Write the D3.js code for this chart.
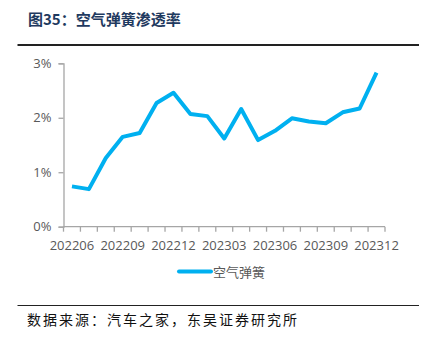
<!DOCTYPE html>
<html>
<head>
<meta charset="utf-8">
<script src="https://cdn.jsdelivr.net/npm/d3@7/dist/d3.min.js"></script>
<style>
  html, body { margin: 0; padding: 0; background: #fff; }
  svg { display: block; }
</style>
</head>
<body>
<svg id="chart" width="426" height="343"></svg>
<script>
// Monthly penetration rate of air suspension springs (%)
const months = ["202206","202207","202208","202209","202210","202211","202212","202301","202302","202303","202304","202305","202306","202307","202308","202309","202310","202311","202312"];
const rates = [0.74, 0.69, 1.26, 1.65, 1.72, 2.27, 2.46, 2.07, 2.03, 1.62, 2.16, 1.59, 1.76, 1.99, 1.93, 1.90, 2.10, 2.17, 2.83];
const yTicks = [0, 1, 2, 3];
const xLabels = ["202206","202209","202212","202303","202306","202309","202312"];
const seriesName = "空气弹簧";

const svg = d3.select("#chart");
const axisColor = "#a6a6a6";
const textColor = "#595959";
const lineColor = "#00b0f0";

const plotLeft = 63.5, plotRight = 385, plotTop = 63.3, plotBottom = 226.7;

const x = d3.scaleBand().domain(months).range([plotLeft, plotRight]).paddingInner(0).paddingOuter(0);
const y = d3.scaleLinear().domain([0, 3]).range([plotBottom, plotTop]);

// Title
svg.append("text")
  .attr("x", 28).attr("y", 25)
  .attr("fill", "#1f3a60")
  .attr("font-family", "'Noto Sans CJK SC', sans-serif")
  .attr("font-weight", "bold")
  .attr("font-size", 15)
  .text("图35：空气弹簧渗透率");

svg.append("line")
  .attr("x1", 17.5).attr("x2", 419).attr("y1", 45).attr("y2", 45)
  .attr("stroke", "#222").attr("stroke-width", 2);

// Y axis
const yAxis = d3.axisLeft(y).tickValues(yTicks).tickSize(5).tickPadding(7)
  .tickFormat(d => d + "%");
const gy = svg.append("g").attr("transform", `translate(${plotLeft},0)`).call(yAxis);
gy.select(".domain").attr("stroke", axisColor).attr("stroke-width", 1.3);
gy.selectAll(".tick line").attr("stroke", axisColor).attr("stroke-width", 1.3);
gy.selectAll(".tick text").attr("fill", textColor)
  .attr("font-family", "'Open Sans', sans-serif").attr("font-size", 13);

// X axis: ticks at category boundaries, labels every third month
const boundaries = months.map(m => x(m)).concat([plotRight]);
const gx = svg.append("g").attr("transform", `translate(0,${plotBottom})`);
gx.append("line").attr("x1", plotLeft).attr("x2", plotRight).attr("y1", 0).attr("y2", 0)
  .attr("stroke", axisColor).attr("stroke-width", 1.3);
gx.selectAll("line.tk").data(boundaries).join("line").attr("class", "tk")
  .attr("x1", d => d).attr("x2", d => d).attr("y1", 0).attr("y2", 5)
  .attr("stroke", axisColor).attr("stroke-width", 1.3);
gx.selectAll("text").data(xLabels).join("text")
  .attr("x", d => x(d) + x.bandwidth() / 2)
  .attr("y", 23)
  .attr("text-anchor", "middle")
  .attr("fill", textColor)
  .attr("font-family", "'Open Sans', sans-serif").attr("font-size", 13)
  .text(d => d);

// Series line
const line = d3.line()
  .x((d, i) => x(months[i]) + x.bandwidth() / 2)
  .y(d => y(d));
svg.append("path").datum(rates)
  .attr("d", line)
  .attr("fill", "none")
  .attr("stroke", lineColor)
  .attr("stroke-width", 4)
  .attr("stroke-linejoin", "round");

// Legend
svg.append("line")
  .attr("x1", 179).attr("x2", 211).attr("y1", 271.5).attr("y2", 271.5)
  .attr("stroke", lineColor).attr("stroke-width", 4).attr("stroke-linecap", "round");
svg.append("text")
  .attr("x", 213).attr("y", 276.5)
  .attr("fill", textColor)
  .attr("font-family", "'Noto Sans CJK SC', sans-serif").attr("font-size", 13)
  .text(seriesName);

// Source note
svg.append("line")
  .attr("x1", 17.5).attr("x2", 419).attr("y1", 305.5).attr("y2", 305.5)
  .attr("stroke", "#222").attr("stroke-width", 1.2);
svg.append("text")
  .attr("x", 27).attr("y", 325)
  .attr("fill", "#111")
  .attr("font-family", "'Noto Sans CJK SC', sans-serif").attr("font-size", 14)
  .attr("letter-spacing", 2)
  .text("数据来源：汽车之家，东吴证券研究所");
</script>
</body>
</html>
